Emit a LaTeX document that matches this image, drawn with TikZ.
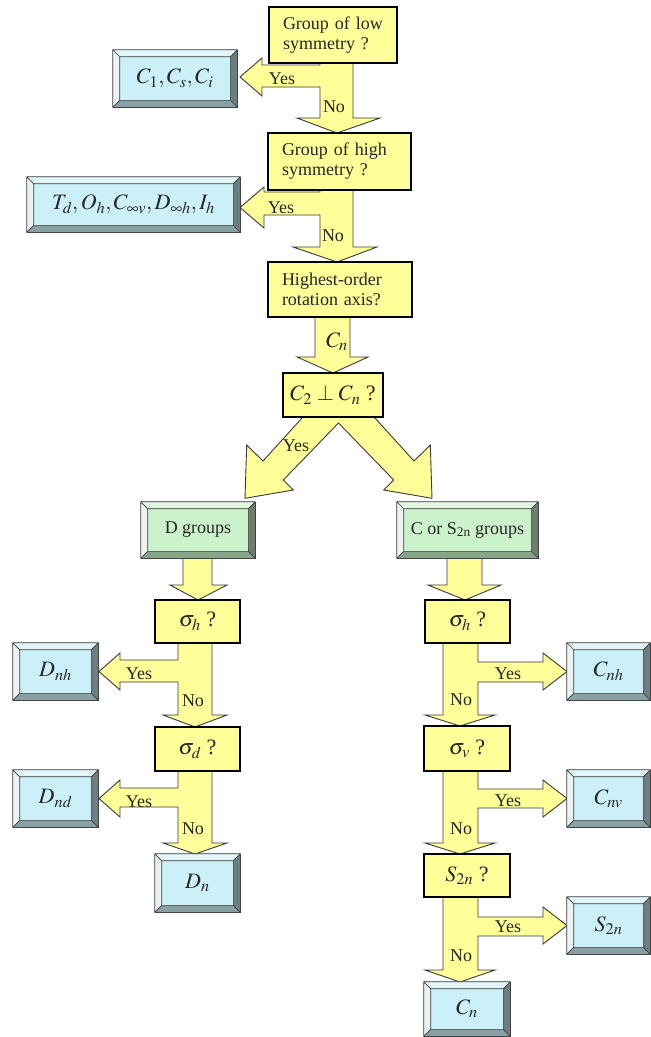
\documentclass[tikz,border=0pt]{standalone}
\usepackage{mathptmx}
\usepackage[no-math]{fontspec}
\setmainfont{Liberation Serif}
\newfontfamily\tnr{Liberation Serif}
\usetikzlibrary{calc}
\definecolor{yel}{HTML}{FFFF99}
\definecolor{bfill}{HTML}{CCF0F7}
\definecolor{btop}{HTML}{E2F5F9}
\definecolor{bleft}{HTML}{EEF2F3}
\definecolor{bright}{HTML}{6E7D80}
\definecolor{bbot}{HTML}{89A1A5}
\definecolor{gfill}{HTML}{CCF2CC}
\definecolor{gtop}{HTML}{E2F6E2}
\definecolor{gleft}{HTML}{EEF3EE}
\definecolor{gright}{HTML}{6E7D6E}
\definecolor{gbot}{HTML}{89A589}
\definecolor{edge}{HTML}{3A3A3A}
\tikzset{
  txt/.style={font=\tnr\fontsize{18}{20}\selectfont, text=black!85, inner sep=0pt},
  mtxt/.style={font=\tnr\fontsize{22}{24}\selectfont, text=black!85, inner sep=0pt},
  ybox/.style={draw=black, line width=1.2pt, fill=yel, text=black!85,
    font=\tnr\fontsize{18}{20}\selectfont, inner ysep=0pt, align=left},
  ymath/.style={font=\tnr\fontsize{22}{24}\selectfont},
  bevnode/.style={draw=edge, line width=0.7pt, inner sep=0pt, text=black!85,
    font=\tnr\fontsize{22}{24}\selectfont},
  barrow/.style={fill=yel, draw=edge, line width=0.9pt, line join=miter},
}
\def\bv{7}
\newcommand\bevbox[7]{%
  \node[bevnode, minimum width=#4pt, minimum height=#5pt, fill=#6fill] (#1) at (#2,#3) {#7};
  \fill[#6top] (#1.north west) -- (#1.north east) -- ($(#1.north east)+(-\bv,\bv)$) -- ($(#1.north west)+(\bv,\bv)$) -- cycle;
  \fill[#6left] (#1.north west) -- ($(#1.north west)+(\bv,\bv)$) -- ($(#1.south west)+(\bv,-\bv)$) -- (#1.south west) -- cycle;
  \fill[#6right] (#1.north east) -- ($(#1.north east)+(-\bv,\bv)$) -- ($(#1.south east)+(-\bv,-\bv)$) -- (#1.south east) -- cycle;
  \fill[#6bot] (#1.south west) -- ($(#1.south west)+(\bv,-\bv)$) -- ($(#1.south east)+(-\bv,-\bv)$) -- (#1.south east) -- cycle;
  \draw[edge, line width=0.7pt] (#1.north west) rectangle (#1.south east)
    ($(#1.north west)+(\bv,\bv)$) rectangle ($(#1.south east)+(-\bv,-\bv)$)
    (#1.north west) -- ($(#1.north west)+(\bv,\bv)$)
    (#1.north east) -- ($(#1.north east)+(-\bv,\bv)$)
    (#1.south west) -- ($(#1.south west)+(\bv,-\bv)$)
    (#1.south east) -- ($(#1.south east)+(-\bv,-\bv)$);
}
\begin{document}
\begin{tikzpicture}[x=1pt,y=-1pt]
\useasboundingbox (0,0) rectangle (651,1037);
\fill[white] (0,0) rectangle (651,1037);

% ---- block arrows (drawn first, boxes cover their starts)
\draw[barrow] (320,60) -- (320,65) -- (262,65) -- (262,58) -- (240,77) -- (262,96) -- (262,87) -- (320,87) -- (320,118) -- (297,118) -- (337,133) -- (380,118) -- (353,118) -- (353,60) -- cycle;
\draw[barrow] (320,187) -- (320,192) -- (264,192) -- (264,187) -- (240,207.5) -- (264,228) -- (264,215) -- (320,215) -- (320,247) -- (293,247) -- (337,262) -- (377,247) -- (353,247) -- (353,187) -- cycle;
\draw[barrow] (315,314) -- (315,357) -- (297,357) -- (333,373) -- (368,357) -- (350,357) -- (350,314) -- cycle;
\draw[barrow] (313.8,405) -- (263,461) -- (246.7,445) -- (245,498.3) -- (293.3,490) -- (283.3,480) -- (338.5,423) -- (393.7,480) -- (383.7,490) -- (432,498.3) -- (430.3,445) -- (414,461) -- (363.2,405) -- cycle;
\draw[barrow] (183,555) -- (183,585) -- (170,585) -- (198,600) -- (227,585) -- (212,585) -- (212,555) -- cycle;
\draw[barrow] (447,555) -- (447,585) -- (428,585) -- (465,600) -- (501,585) -- (482,585) -- (482,555) -- cycle;
\draw[barrow] (178,640) -- (178,660) -- (120,660) -- (120,653) -- (99,671.5) -- (120,690) -- (120,682) -- (178,682) -- (178,715) -- (163,715) -- (195,727) -- (227,715) -- (212,715) -- (212,640) -- cycle;
\draw[barrow] (178,768) -- (178,788) -- (120,788) -- (120,780) -- (99,798.5) -- (120,817) -- (120,807) -- (178,807) -- (178,843) -- (163,843) -- (195,854) -- (227,843) -- (212,843) -- (212,768) -- cycle;
\draw[barrow] (443,640) -- (443,715) -- (425,715) -- (460,726) -- (495,715) -- (478,715) -- (478,682) -- (543,682) -- (543,690) -- (567,671.5) -- (543,653) -- (543,662) -- (478,662) -- (478,640) -- cycle;
\draw[barrow] (443,768) -- (443,843) -- (425,843) -- (460,854) -- (495,843) -- (478,843) -- (478,808) -- (543,808) -- (543,817) -- (567,798.5) -- (543,780) -- (543,789) -- (478,789) -- (478,768) -- cycle;
\draw[barrow] (443,894) -- (443,970) -- (425,970) -- (460,982) -- (495,970) -- (478,970) -- (478,936) -- (543,936) -- (543,944) -- (567,925.5) -- (543,907) -- (543,917) -- (478,917) -- (478,894) -- cycle;

% ---- yellow decision boxes
\node[ybox, minimum width=128pt, minimum height=56pt, text width=100pt, inner xsep=12pt] (q1) at (333,35) {Group of low\\symmetry ?};
\node[ybox, minimum width=143pt, minimum height=57pt, text width=115pt, inner xsep=14pt] (q2) at (339.5,161.5) {Group of high\\symmetry ?};
\node[ybox, minimum width=144pt, minimum height=55pt, text width=116pt, inner xsep=14pt] (q3) at (340,289.5) {Highest-order\\rotation axis?};
\node[ybox, ymath, minimum width=100pt, minimum height=44pt] (q4) at (333,395) {$C_2\perp C_n$ ?};
\node[ybox, ymath, minimum width=85pt, minimum height=43pt] (sh1) at (197.5,621.5) {$\sigma_h$ ?};
\node[ybox, ymath, minimum width=85pt, minimum height=44pt] (sd) at (197.5,749) {$\sigma_d$ ?};
\node[ybox, ymath, minimum width=85pt, minimum height=43pt] (sh2) at (467.5,621.5) {$\sigma_h$ ?};
\node[ybox, ymath, minimum width=86pt, minimum height=45pt] (sv) at (467,748.5) {$\sigma_v$ ?};
\node[ybox, ymath, minimum width=86pt, minimum height=43pt] (s2q) at (467,875.5) {$S_{2n}$ ?};

% ---- bevelled result boxes
\bevbox{r1}{175}{78.5}{124}{57}{b}{$C_1, C_s, C_i$}
\bevbox{r2}{133.5}{204.5}{213}{55}{b}{$T_d, O_h, C_{\infty v}, D_{\infty h}, I_h$}
\bevbox{dg}{198}{530}{114}{56}{g}{\tnr\fontsize{18}{20}\selectfont D groups}
\bevbox{cg}{467.5}{530}{141}{56}{g}{\tnr\fontsize{18}{20}\selectfont C or S\textsubscript{2n} groups}
\bevbox{dnh}{55.5}{671.5}{85}{57}{b}{$D_{nh}$}
\bevbox{dnd}{55.5}{798.5}{85}{57}{b}{$D_{nd}$}
\bevbox{dn}{197.5}{883}{85}{58}{b}{$D_n$}
\bevbox{cnh}{608.5}{671.5}{83}{57}{b}{$C_{nh}$}
\bevbox{cnv}{608.5}{798.5}{83}{57}{b}{$C_{nv}$}
\bevbox{s2n}{608.5}{925.5}{83}{57}{b}{$S_{2n}$}
\bevbox{cn}{467}{1009}{86}{54}{b}{$C_n$}

% ---- labels on the arrows
\node[txt] (y1) at (282,79) {Yes};
\node[txt] (n1) at (334,107) {No};
\node[txt] (y2) at (281,208) {Yes};
\node[txt] (n2) at (333,236) {No};
\node[mtxt] (lcn) at (337,342) {$C_n$};
\node[txt] (y3) at (296,446) {Yes};
\node[txt] (yl1) at (139,674) {Yes};
\node[txt] (nl1) at (193,701) {No};
\node[txt] (yl2) at (139,802) {Yes};
\node[txt] (nl2) at (193,829) {No};
\node[txt] (yr1) at (508,674) {Yes};
\node[txt] (nr1) at (461,700) {No};
\node[txt] (yr2) at (508,801) {Yes};
\node[txt] (nr2) at (461,829) {No};
\node[txt] (yr3) at (508,927) {Yes};
\node[txt] (nr3) at (461,956) {No};
\end{tikzpicture}
\end{document}
